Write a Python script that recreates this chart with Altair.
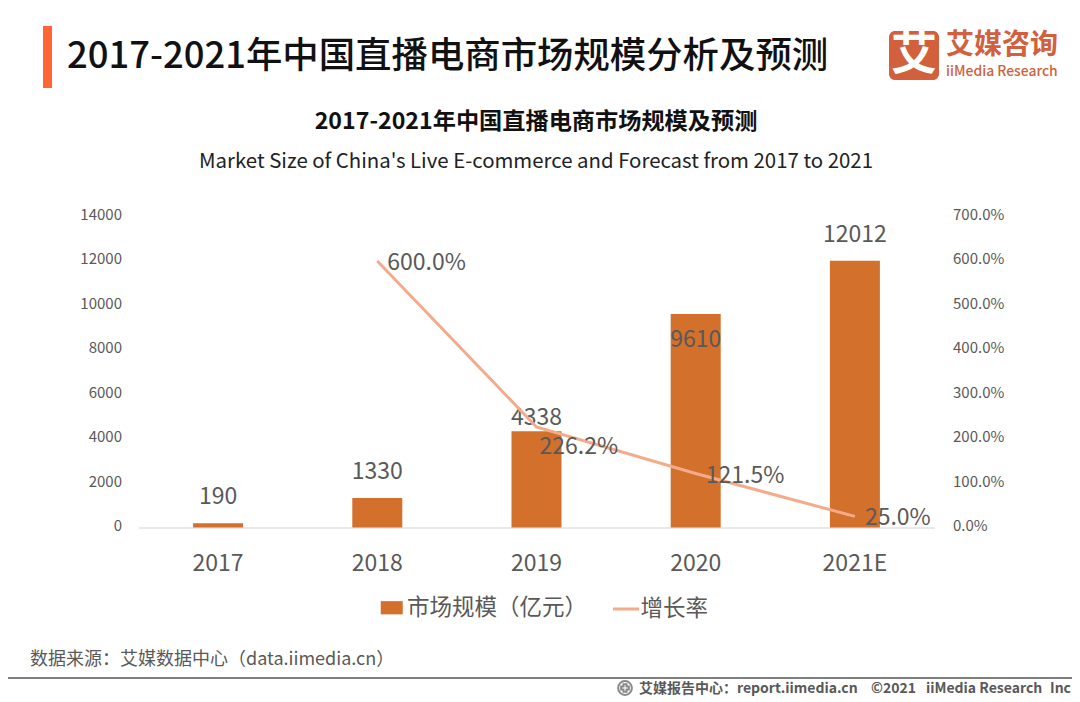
import altair as alt
import pandas as pd

years = ["2017", "2018", "2019", "2020", "2021E"]
market = [190, 1330, 4338, 9610, 12012]
growth = [None, 600.0, 226.2, 121.5, 25.0]
LEFT_TICKS = [0, 2000, 4000, 6000, 8000, 10000, 12000, 14000]
RIGHT_TICKS = [0, 100, 200, 300, 400, 500, 600, 700]
BAR_NAME = "市场规模（亿元）"
LINE_NAME = "增长率"

FONT = "Noto Sans CJK SC"
GRAY = "#595959"
BAR = "#D2702C"
LINE = "#F4AB8C"
OX, OY = 138.5, 216.5

df = pd.DataFrame({"year": years, "market": market, "growth": growth})
base = alt.Chart(df)
X = alt.X("year:N", sort=years, title=None,
          scale=alt.Scale(paddingInner=0, paddingOuter=0),
          axis=alt.Axis(labelFontSize=23, labelColor=GRAY, labelFont=FONT, labelAngle=0,
                        labelPadding=25, ticks=False, domainColor="#E2E2E2", domainWidth=1.5, grid=False))
YL = alt.Y("market:Q", title=None, scale=alt.Scale(domain=[0, 14000]),
           axis=alt.Axis(values=LEFT_TICKS, format="d", labelFontSize=15, labelColor=GRAY, labelFont=FONT,
                         labelPadding=17, labelOffset=-2, ticks=False, domain=False, grid=False, orient="left"))
YR = alt.Y("growth:Q", title=None, scale=alt.Scale(domain=[0, 700]),
           axis=alt.Axis(values=RIGHT_TICKS, labelFontSize=15, labelColor=GRAY, labelFont=FONT,
                         labelPadding=18, labelOffset=-2, ticks=False, domain=False, grid=False, orient="right",
                         labelExpr="format(datum.value,'.1f')+'%'"))

bars = base.transform_calculate(s=f"'{BAR_NAME}'").mark_bar(size=50).encode(
    x=X, y=YL,
    fill=alt.Fill("s:N", title=None, scale=alt.Scale(range=[BAR]),
                  legend=alt.Legend(orient="none", legendX=242, legendY=380, title=None,
                                    symbolType="M-1,-0.6H1V0.6H-1Z", symbolSize=484,
                                    labelFontSize=22.5, labelColor=GRAY, labelFont=FONT,
                                    labelLimit=300, symbolStrokeWidth=0, labelOffset=4)))
lab_style = dict(fontSize=23, font=FONT, color=GRAY)
bar_top = base.transform_filter("datum.market != 9610 && datum.market != 4338").mark_text(
    baseline="middle", dy=-26, **lab_style).encode(x=X, y=YL, text="market:Q")
bar_mid = base.transform_filter("datum.market == 4338").mark_text(
    baseline="middle", dy=-13, **lab_style).encode(x=X, y=YL, text="market:Q")
bar_in = base.transform_filter("datum.market == 9610").mark_text(
    baseline="middle", dy=26, **lab_style).encode(x=X, y=YL, text="market:Q")
left = alt.layer(bars, bar_top, bar_mid, bar_in)

g = base.transform_filter("isValid(datum.growth)").transform_calculate(
    label="format(datum.growth,'.1f')+'%'", s=f"'{LINE_NAME}'")
line = g.mark_line(strokeWidth=3).encode(
    x=X, y=YR,
    stroke=alt.Stroke("s:N", title=None, scale=alt.Scale(range=[LINE]),
                      legend=alt.Legend(orient="none", legendX=473, legendY=378, title=None,
                                        symbolType="stroke", symbolSize=676, symbolStrokeWidth=3,
                                        labelFontSize=22.5, labelColor=GRAY, labelFont=FONT, labelOffset=0)))
line_lab = g.transform_filter("datum.growth != 226.2").mark_text(
    align="left", baseline="middle", dx=10, dy=2, **lab_style).encode(x=X, y=YR, text="label:N")
line_lab2 = g.transform_filter("datum.growth == 226.2").mark_text(
    align="left", baseline="middle", dx=3, dy=20, **lab_style).encode(x=X, y=YR, text="label:N")
right = alt.layer(line, line_lab, line_lab2)


def txt(s, x, y, size, color, weight=400, align="left"):
    return alt.Chart(pd.DataFrame({"t": [s]})).mark_text(
        align=align, baseline="middle", fontSize=size, font=FONT, color=color, fontWeight=weight
    ).encode(x=alt.value(x - OX), y=alt.value(y - OY), text="t:N")


def box(x, x2, y, y2, color, r=0):
    return alt.Chart(pd.DataFrame({"a": [0]})).mark_rect(color=color, cornerRadius=r).encode(
        x=alt.value(x - OX), x2=alt.value(x2 - OX), y=alt.value(y - OY), y2=alt.value(y2 - OY))


def dot(shape, size, x, y):
    return alt.Chart(pd.DataFrame({"a": [0]})).mark_point(
        shape=shape, size=size, stroke=GRAY, strokeWidth=2, filled=False
    ).encode(x=alt.value(x - OX), y=alt.value(y - OY))


deco = alt.layer(
    box(43, 52, 26, 88, "#FF6633"),
    txt("2017-2021年中国直播电商市场规模分析及预测", 67, 57, 36.4, "#111111", 500),
    box(889, 939, 31, 80, "#D2603C", 6),
    txt("艾", 914, 55, 46, "#FFFFFF", 700, "center"),
    txt("艾媒咨询", 946, 46, 28, "#D2603C", 700),
    txt("iiMedia Research", 946, 72, 13.9, "#D2603C", 500),
    txt("2017-2021年中国直播电商市场规模及预测", 536, 122, 23.2, "#111111", 700, "center"),
    txt("Market Size of China's Live E-commerce and Forecast from 2017 to 2021", 536, 162, 20.4, "#222222", 400, "center"),
    txt("数据来源：艾媒数据中心（data.iimedia.cn）", 30, 660, 18, GRAY),
    box(0, 1080, 677, 679, "#7F7F7F"),
    dot("circle", 190, 625, 688),
    dot("cross", 60, 625, 688),
    txt("艾媒报告中心：report.iimedia.cn", 639, 689, 14, GRAY, 700),
    txt("©2021", 871, 689, 14, GRAY, 700),
    txt("iiMedia Research", 926, 689, 14, GRAY, 700),
    txt("Inc", 1071, 689, 14, GRAY, 700, "right"),
)

chart = alt.layer(left, right, deco).resolve_scale(y="independent", fill="independent", stroke="independent").properties(
    width=796, height=311,
    padding={"left": 130.5, "top": 208.5, "right": 137.5, "bottom": 169.5},
    autosize=alt.AutoSizeParams(type="none"),
    background="white",
).configure_view(stroke=None)

chart.save("out.html", embed_options={"renderer": "svg", "actions": False})
